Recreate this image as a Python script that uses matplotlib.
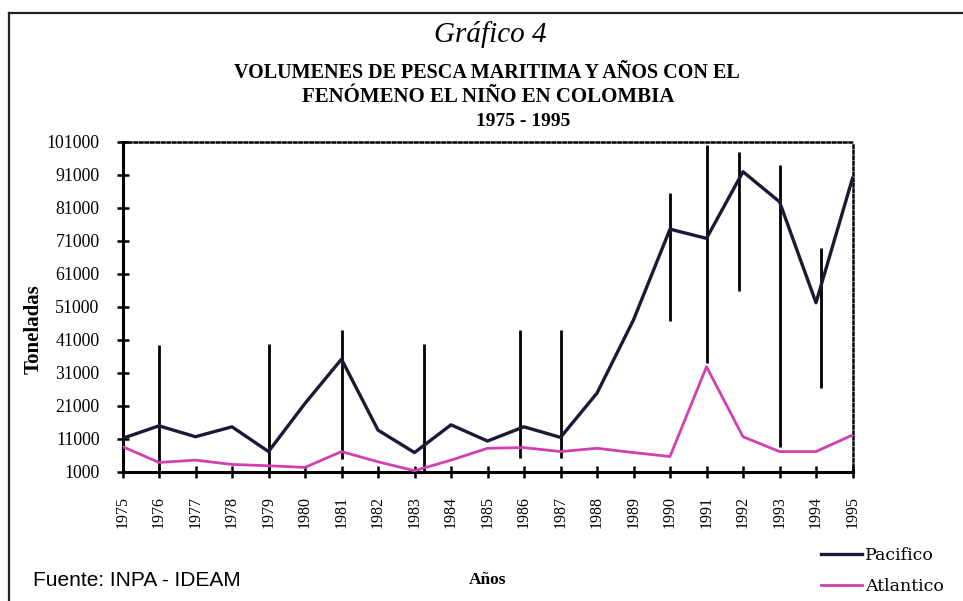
import matplotlib.pyplot as plt
from matplotlib.lines import Line2D

# Data
years = list(range(1975, 1996))
pacifico = [11100, 14900, 11600, 14600, 7100, 21700, 35100, 13600, 6800, 15200,
            10300, 14600, 11400, 24800, 47000, 74500, 71700, 91900, 82800, 52200, 89900]
atlantico = [8600, 3800, 4500, 3200, 2800, 2300, 7100, 4000, 1300, 4500,
             8100, 8300, 7100, 8100, 6800, 5600, 32800, 11600, 7100, 7100, 12100]

# El Nino marks (position on year axis, low, high)
nino_x = [1976.0, 1979.0, 1981.0, 1983.25, 1985.9, 1987.0, 1990.0, 1991.0, 1991.9, 1993.0, 1994.15]
nino_low = [1600, 1000, 5000, 1000, 5100, 5100, 46700, 34000, 55800, 8500, 26400]
nino_high = [39500, 39700, 44000, 39700, 44000, 44000, 85500, 100000, 98000, 94000, 68800]

y_ticks = list(range(1000, 101001, 10000))

serif = 'Liberation Serif'
W, H = 963, 601

fig = plt.figure(figsize=(W / 100, H / 100), dpi=100)
fig.patch.set_facecolor('white')

# page frame (left and top edges only)
fig.add_artist(Line2D([9 / W, 9 / W], [0, 1 - 13 / H], color='#222222', lw=1.6))
fig.add_artist(Line2D([9 / W, 1], [1 - 13 / H, 1 - 13 / H], color='#222222', lw=1.6))

ax = fig.add_axes([122.5 / W, (H - 471.7) / H, (852.5 - 122.5) / W, (471.7 - 141.7) / H])

ax.vlines(nino_x, nino_low, nino_high, color='black', lw=2.0, zorder=2)
ax.plot(years, pacifico, color='#1a1a36', lw=2.4, zorder=3, label='Pacifico')
ax.plot(years, atlantico, color='#d23fae', lw=2.0, zorder=3, label='Atlantico')

ax.set_xlim(1975, 1995)
ax.set_ylim(1000, 101000)
ax.set_xticks(years)
ax.set_xticklabels([str(y) for y in years], rotation=90, family=serif, fontsize=11.5)
ax.set_yticks(y_ticks)
ax.set_yticklabels([str(v) for v in y_ticks], family=serif, fontsize=12.8)

ax.tick_params(axis='both', direction='inout', length=9, width=1.8, color='black')
ax.tick_params(axis='x', pad=13)
ax.tick_params(axis='y', pad=12)

for side in ['left', 'bottom']:
    ax.spines[side].set_linewidth(2.2)
for side in ['top', 'right']:
    ax.spines[side].set_linestyle((0, (1, 1.2)))
    ax.spines[side].set_linewidth(1.8)

ax.set_ylabel('Toneladas', family=serif, fontsize=15, fontweight='bold')
ax.yaxis.set_label_coords(-(122.5 - 44) / (852.5 - 122.5), (471.7 - 329) / 330)

# titles
fig.text(490 / W, 1 - 35 / H, 'Gráfico 4', ha='center', va='center',
         family=serif, style='italic', fontsize=21)
fig.text(487 / W, 1 - 73 / H, 'VOLUMENES DE PESCA MARITIMA Y AÑOS CON EL',
         ha='center', va='center', family=serif, fontweight='bold', fontsize=14.5)
fig.text(488 / W, 1 - 97 / H, 'FENÓMENO EL NIÑO EN COLOMBIA',
         ha='center', va='center', family=serif, fontweight='bold', fontsize=15)
fig.text(523 / W, 1 - 122 / H, '1975 - 1995',
         ha='center', va='center', family=serif, fontweight='bold', fontsize=14)

fig.text(488 / W, 1 - 580 / H, 'Años', ha='center', va='center',
         family=serif, fontweight='bold', fontsize=12.5)
fig.text(33 / W, 1 - 581 / H, 'Fuente: INPA - IDEAM', ha='left', va='center',
         family='Liberation Sans', fontsize=15)

handles, labels = ax.get_legend_handles_labels()
fig.legend(handles, labels, loc='center left', bbox_to_anchor=(805 / W, 1 - 571 / H),
           frameon=False, handlelength=2.4, handletextpad=0.15, labelspacing=0.85,
           prop={'family': 'DejaVu Serif', 'size': 12.5})

fig.savefig('out.png', dpi=100, facecolor='white')
